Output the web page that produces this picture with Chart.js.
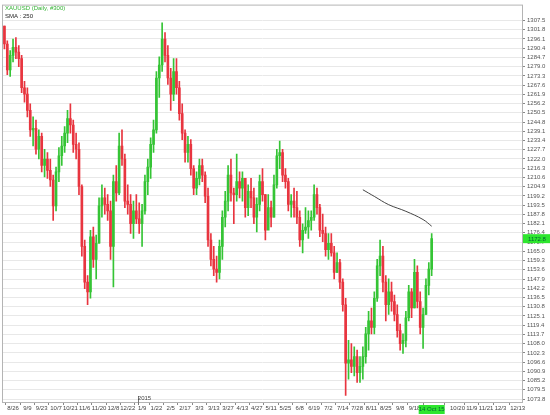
<!DOCTYPE html>
<html>
<head>
<meta charset="utf-8">
<script src="https://cdn.jsdelivr.net/npm/chart.js@4.4.0/dist/chart.umd.min.js"></script>
<style>
html, body { margin: 0; padding: 0; background: #fff; }
#wrap { width: 550px; height: 415px; }
</style>
</head>
<body>
<div id="wrap"><canvas id="xau_chart" width="550" height="415"></canvas></div>
<script>
var lows = [
    1290, 1274, 1273, 1282, 1284, 1279, 1263, 1257, 1248, 1236,
    1230, 1225, 1222, 1214, 1211, 1210, 1205, 1184, 1190, 1208,
    1218, 1226, 1232, 1238, 1226, 1222, 1200, 1162, 1142, 1132,
    1136, 1155, 1148, 1170, 1186, 1188, 1184, 1160, 1143, 1196,
    1200, 1218, 1192, 1188, 1176, 1173, 1182, 1176, 1168, 1188,
    1200, 1210, 1226, 1238, 1260, 1276, 1282, 1268, 1252, 1258,
    1262, 1246, 1234, 1220, 1220, 1212, 1200, 1200, 1206, 1208,
    1195, 1168, 1156, 1150, 1146, 1148, 1160, 1180, 1190, 1196,
    1182, 1196, 1198, 1196, 1186, 1187, 1192, 1182, 1177, 1190,
    1196, 1172, 1180, 1180, 1186, 1204, 1216, 1208, 1204, 1190,
    1186, 1186, 1182, 1168, 1164, 1176, 1173, 1178, 1184, 1188,
    1174, 1171, 1162, 1160, 1162, 1148, 1152, 1142, 1128, 1076,
    1086, 1090, 1088, 1084, 1084, 1086, 1096, 1104, 1114, 1114,
    1134, 1150, 1140, 1122, 1126, 1128, 1122, 1112, 1104, 1102,
    1106, 1122, 1124, 1130, 1130, 1114, 1105, 1126, 1138, 1150
];
var highs = [
    1304, 1295, 1289, 1296, 1297, 1292, 1286, 1270, 1266, 1256,
    1248, 1246, 1240, 1238, 1228, 1226, 1222, 1212, 1217, 1229,
    1236, 1242, 1252, 1256, 1246, 1238, 1232, 1206, 1172, 1150,
    1178, 1180, 1175, 1198, 1206, 1204, 1200, 1196, 1212, 1218,
    1238, 1240, 1225, 1206, 1200, 1196, 1200, 1195, 1194, 1212,
    1222, 1235, 1246, 1276, 1285, 1306, 1300, 1292, 1278, 1284,
    1284, 1270, 1256, 1240, 1236, 1234, 1218, 1214, 1222, 1222,
    1214, 1204, 1176, 1168, 1162, 1172, 1190, 1202, 1218, 1222,
    1204, 1225, 1214, 1214, 1208, 1206, 1210, 1204, 1198, 1212,
    1216, 1200, 1200, 1196, 1212, 1228, 1233, 1228, 1216, 1210,
    1200, 1204, 1202, 1190, 1182, 1192, 1190, 1190, 1206, 1204,
    1194, 1188, 1180, 1176, 1176, 1168, 1164, 1160, 1148, 1136,
    1110, 1108, 1106, 1104, 1100, 1106, 1118, 1128, 1130, 1140,
    1160, 1172, 1168, 1150, 1148, 1146, 1138, 1132, 1120, 1114,
    1128, 1144, 1142, 1160, 1156, 1140, 1130, 1148, 1158, 1176
];
var closes = [
    1293, 1277, 1286, 1291, 1288, 1284, 1266, 1262, 1252, 1240,
    1241, 1228, 1236, 1218, 1222, 1215, 1209, 1193, 1214, 1224,
    1230, 1238, 1247, 1243, 1231, 1228, 1205, 1168, 1146, 1140,
    1174, 1160, 1170, 1193, 1198, 1194, 1190, 1168, 1208, 1201,
    1230, 1222, 1196, 1194, 1182, 1190, 1185, 1182, 1190, 1208,
    1217, 1231, 1240, 1272, 1280, 1296, 1286, 1272, 1262, 1276,
    1266, 1250, 1238, 1226, 1231, 1216, 1204, 1210, 1218, 1212,
    1199, 1172, 1160, 1154, 1152, 1168, 1186, 1196, 1212, 1201,
    1200, 1208, 1204, 1210, 1192, 1202, 1198, 1186, 1194, 1208,
    1200, 1178, 1192, 1186, 1206, 1224, 1226, 1212, 1208, 1194,
    1196, 1192, 1186, 1172, 1178, 1180, 1184, 1186, 1200, 1192,
    1178, 1176, 1166, 1170, 1164, 1152, 1158, 1146, 1132, 1096,
    1098, 1094, 1100, 1090, 1094, 1100, 1114, 1122, 1118, 1136,
    1156, 1162, 1146, 1132, 1140, 1134, 1126, 1116, 1108, 1110,
    1124, 1140, 1130, 1152, 1134, 1118, 1126, 1144, 1154, 1172.8
];

// SMA 250, only where it is drawn (bar index / value)
var smaBars = [125, 129, 134, 140, 146, 149];
var smaValues = [1203.0, 1198.9, 1193.8, 1189.7, 1184.6, 1180.5];

var priceTicks = [
    1307.5, 1301.8, 1296.1, 1290.4, 1284.7, 1279.0, 1273.3, 1267.6, 1261.9, 1256.2,
    1250.5, 1244.8, 1239.1, 1233.4, 1227.7, 1222.0, 1216.3, 1210.6, 1204.9, 1199.2,
    1193.5, 1187.8, 1182.1, 1176.4, 1170.7, 1165.0, 1159.3, 1153.6, 1147.9, 1142.2,
    1136.5, 1130.8, 1125.1, 1119.4, 1113.7, 1108.0, 1102.3, 1096.6, 1090.9, 1085.2,
    1079.5, 1073.8
];
var dateTicks = ['8/26', '9/9', '9/23', '10/7', '10/21', '11/6', '11/20', '12/8', '12/22',
    '1/9', '1/22', '2/5', '2/17', '3/3', '3/13', '3/27', '4/13', '4/27', '5/11', '5/25',
    '6/8', '6/19', '7/2', '7/14', '7/28', '8/11', '8/25', '9/8', '9/18'];
var futureTicks = ['10/20', '11/9', '11/21', '12/3', '12/13'];
var lastDate = '14 Oct 15';
var lastPrice = 1172.8;
var yearLabel = '2015';

var upColor = '#35c435';
var downColor = '#e8353f';
var fontFamily = '"Liberation Sans", Arial, sans-serif';

// x slots: data bars then empty future space
var nSlots = 181;
var slots = [];
for (var s = 0; s < nSlots; s++) slots.push('');
dateTicks.forEach(function (d, k) { slots[3 + 5 * k] = d; });
slots[closes.length - 1] = lastDate;
futureTicks.forEach(function (d, k) { slots[158 + Math.floor(5.25 * k)] = d; });

var opens = closes.map(function (c, i) { return i === 0 ? highs[0] : closes[i - 1]; });
var barColors = closes.map(function (c, i) { return c >= opens[i] ? upColor : downColor; });

var sma = closes.map(function () { return null; });
smaBars.forEach(function (b, k) { sma[b] = smaValues[k]; });

var overlay = {
    id: 'overlay',
    afterDraw: function (chart) {
        var ctx = chart.ctx, a = chart.chartArea;
        var xs = chart.scales.x, ys = chart.scales.y;
        ctx.save();
        // frame
        ctx.strokeStyle = '#b4b4b4';
        ctx.lineWidth = 1;
        ctx.strokeRect(a.left - 0.5, a.top - 0.5, a.right - a.left + 1, a.bottom - a.top + 1);

        // header
        ctx.font = '6px ' + fontFamily;
        ctx.textBaseline = 'alphabetic';
        ctx.textAlign = 'left';
        ctx.fillStyle = '#33b233';
        ctx.fillText('XAUUSD (Daily, #300)', 5, 10);
        ctx.fillStyle = '#222';
        ctx.fillText('SMA : 250', 5, 18);

        // year marker
        var yx = Math.round((xs.getPixelForValue(46) + xs.getPixelForValue(47)) / 2) + 0.5;
        ctx.strokeStyle = '#777';
        ctx.beginPath();
        ctx.moveTo(yx, a.bottom - 6);
        ctx.lineTo(yx, a.bottom + 3);
        ctx.stroke();
        ctx.fillStyle = '#444';
        ctx.textAlign = 'center';
        ctx.fillText(yearLabel, yx + 6, a.bottom - 2);

        // last price box
        var py = ys.getPixelForValue(lastPrice);
        ctx.fillStyle = '#2ee62e';
        ctx.fillRect(a.right + 1, py - 4.5, chart.width - a.right - 1, 9);
        ctx.fillStyle = '#063';
        ctx.textAlign = 'left';
        ctx.textBaseline = 'middle';
        ctx.fillText(lastPrice.toFixed(1), a.right + 6, py + 0.5);

        // last date box
        var lx = xs.getPixelForValue(closes.length - 1);
        ctx.fillStyle = '#2ee62e';
        ctx.fillRect(lx - 13, a.bottom + 3, 26, 9);
        ctx.fillStyle = '#063';
        ctx.textAlign = 'center';
        ctx.fillText(lastDate, lx, a.bottom + 7.5);
        ctx.restore();
    }
};

var ctx = document.getElementById('xau_chart').getContext('2d');
var xauChart = new Chart(ctx, {
    type: 'bar',
    data: {
        labels: slots,
        datasets: [
            {
                type: 'line',
                label: 'SMA 250',
                data: sma,
                borderColor: '#444',
                borderWidth: 1,
                pointRadius: 0,
                spanGaps: true,
                tension: 0.4,
                order: 0
            },
            {
                label: 'Range',
                data: lows.map(function (l, i) { return [l, highs[i]]; }),
                backgroundColor: barColors,
                barThickness: 1,
                grouped: false,
                order: 2
            },
            {
                label: 'Body',
                data: closes.map(function (c, i) { return [opens[i], c]; }),
                backgroundColor: barColors,
                barThickness: 2,
                grouped: false,
                order: 1
            }
        ]
    },
    options: {
        responsive: false,
        animation: false,
        events: [],
        devicePixelRatio: 1,
        layout: { padding: { left: 3, top: 3, right: 0, bottom: 0 } },
        plugins: {
            legend: { display: false },
            tooltip: { enabled: false },
            title: { display: false }
        },
        scales: {
            x: {
                type: 'category',
                offset: true,
                grid: { drawOnChartArea: false, drawTicks: true, tickLength: 3, color: '#888' },
                border: { display: true, color: '#a0a0a0' },
                ticks: {
                    autoSkip: false,
                    maxRotation: 0,
                    minRotation: 0,
                    padding: 0,
                    color: '#444',
                    font: { size: 6, family: fontFamily },
                    callback: function (v) { return this.getLabelForValue(v); }
                },
                afterBuildTicks: function (scale) {
                    scale.ticks = scale.ticks.filter(function (t) { return slots[t.value] !== ''; });
                },
                afterFit: function (scale) { scale.height = 13; }
            },
            y: {
                type: 'linear',
                position: 'right',
                min: 1071.96,
                max: 1316.7,
                grid: { color: '#e8e8e8', tickColor: '#888', tickLength: 3 },
                border: { display: true, color: '#a0a0a0' },
                ticks: {
                    autoSkip: false,
                    padding: 2,
                    color: '#555',
                    font: { size: 6, family: fontFamily },
                    callback: function (v) { return v.toFixed(1); }
                },
                afterBuildTicks: function (scale) {
                    scale.ticks = priceTicks.map(function (v) { return { value: v }; });
                },
                afterFit: function (scale) { scale.width = 28; }
            }
        }
    },
    plugins: [overlay]
});
</script>
</body>
</html>
